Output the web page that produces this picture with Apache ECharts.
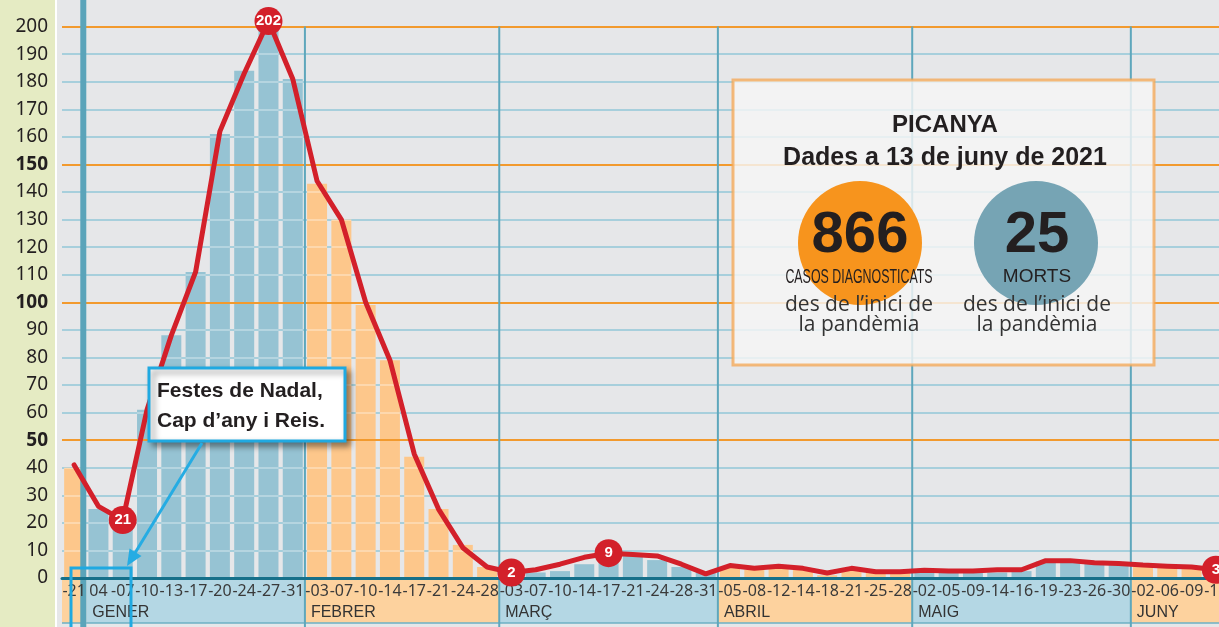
<!DOCTYPE html>
<html><head><meta charset="utf-8">
<script src="https://cdn.jsdelivr.net/npm/echarts@6/dist/echarts.min.js"></script>
<style>html,body{margin:0;padding:0;background:#e6e7e9}#c{width:1219px;height:627px}</style>
</head><body><div id="c"></div>
<script>
const categories = ['-21',
  '04','-07','-10','-13','-17','-20','-24','-27','-31',
  '-03','-07','-10','-14','-17','-21','-24','-28',
  '-03','-07','-10','-14','-17','-21','-24','-28','-31',
  '-05','-08','-12','-14','-18','-21','-25','-28',
  '-02','-05','-09','-14','-16','-19','-23','-26','-30',
  '-02','-06','-09','-13'];
const monthNames = ['', 'GENER', 'FEBRER', 'MARÇ', 'ABRIL', 'MAIG', 'JUNY'];
const monthSizes = [1, 9, 8, 9, 8, 9, 4];
const cases = [40,
  25, 21, 61, 88, 111, 161, 184, 202, 181,
  143, 130, 99, 79, 44, 25, 12, 4,
  1, 2, 2.5, 5, 7, 8, 6.5, 4, 2,
  4, 3, 4, 3, 1, 3, 2, 2,
  2, 2, 2, 2, 2.5, 6, 6, 5.5, 5,
  4.5, 4, 4, 3];
const trend = [41,
  26, 21, 61, 88, 111, 162, 183, 202, 181,
  144, 130, 100, 79, 45, 25, 11, 4,
  2, 3, 5, 7.5, 9, 8.5, 8, 5, 1.5,
  4.5, 3.5, 4.3, 3.5, 1.8, 3.5, 2.3, 2.3,
  2.8, 2.5, 2.5, 3, 3, 6.3, 6.3, 5.5, 5.3,
  4.7, 4.3, 4, 3];
const markerIdx = [2, 8, 18, 22, 47];
const boldTicks = [50, 100, 150];
const summaryCases = 866;
const summaryDeaths = 25;

const ORANGE_BAR = '#fdc78b', BLUE_BAR = '#96c3d3';
function monthOf(i) { let acc = 0; for (let m = 0; m < monthSizes.length; m++) { acc += monthSizes[m]; if (i < acc) return m; } return monthSizes.length - 1; }
const monthData = []; { let s = 0; monthSizes.forEach((n, m) => { monthData.push([s, s + n - 1, m]); s += n; }); }

const chart = echarts.init(document.getElementById('c'), null, { renderer: 'canvas' });
const whiteLine = 'rgba(255,255,255,0.3)';
chart.setOption({
  animation: false,
  backgroundColor: '#e6e7e9',
  grid: { left: 62, right: -9, top: -1, bottom: 49, containLabel: false, outerBoundsMode: 'none' },
  xAxis: {
    type: 'category', data: categories, z: 12,
    axisLine: { lineStyle: { color: '#16708a', width: 3 } },
    axisTick: { show: false },
    splitLine: { show: false },
    axisLabel: { interval: 0, hideOverlap: false, margin: 5, fontSize: 16, color: '#3a3a3a', fontFamily: '"Noto Sans", sans-serif' }
  },
  yAxis: [{
    type: 'value', min: 0, max: 210, interval: 10, z: 10,
    axisLine: { show: false }, axisTick: { show: false },
    splitLine: { lineStyle: { color: ['#f29a2e', whiteLine, whiteLine, whiteLine, whiteLine], width: 2 } },
    axisLabel: {
      margin: 14, fontSize: 19, color: '#231f20', fontFamily: '"Noto Sans", sans-serif',
      formatter: v => v > 200 ? '' : (boldTicks.includes(v) ? '{b|' + v + '}' : '{n|' + v + '}'),
      rich: {
        b: { fontWeight: 'bold', fontSize: 19, color: '#231f20', fontFamily: '"Noto Sans", sans-serif' },
        n: { fontSize: 19, color: '#231f20', fontFamily: '"Noto Sans", sans-serif' }
      }
    }
  }, {
    type: 'value', min: 0, max: 210, interval: 10, z: 0, position: 'left',
    axisLine: { show: false }, axisTick: { show: false }, axisLabel: { show: false },
    splitLine: { lineStyle: { color: '#82bbcd', width: 2 } }
  }],
  series: [{
    type: 'bar', data: cases, barWidth: 20, z: 2,
    itemStyle: { color: p => monthOf(p.dataIndex) % 2 ? BLUE_BAR : ORANGE_BAR }
  }, {
    type: 'custom', z: 11, clip: false, silent: true,
    data: monthData, encode: { x: [0, 1] },
    renderItem: function (params, api) {
      const st = api.value(0), en = api.value(1), m = api.value(2);
      const bw = api.size([1, 0])[0];
      const x0 = api.coord([st, 0])[0] - bw / 2, x1 = api.coord([en, 0])[0] + bw / 2;
      const yb = api.coord([st, 0])[1], yt = api.coord([st, 200])[1];
      const bandBottom = yb + 45;
      const children = [
        { type: 'rect', shape: { x: x0, y: yb + 1, width: x1 - x0, height: bandBottom - yb - 1 }, style: { fill: m % 2 ? '#b4d7e4' : '#fdd29e' } },
        { type: 'line', shape: { x1: x0, y1: bandBottom, x2: x1, y2: bandBottom }, style: { stroke: '#6cb0c4', lineWidth: 1.5 } },
        { type: 'text', style: { text: monthNames[m], x: x0 + 6, y: yb + 35, fill: '#333', fontSize: 16, fontFamily: '"Liberation Sans Narrow", "Liberation Sans", sans-serif', verticalAlign: 'middle', textVerticalAlign: 'middle' } }
      ];
      if (m === 1) children.push({ type: 'rect', shape: { x: x0 - 6, y: 0, width: 6, height: bandBottom + 10 }, style: { fill: '#5aa4ba' } });
      else if (m > 1) children.push({ type: 'line', shape: { x1: x0, y1: yt, x2: x0, y2: bandBottom + 10 }, style: { stroke: '#5ea7bc', lineWidth: 2 } });
      return { type: 'group', children };
    }
  }, {
    type: 'line', data: trend, symbol: 'none', z: 20, smooth: false,
    lineStyle: { color: '#d3202a', width: 5, cap: 'round', join: 'round' }
  }, {
    type: 'scatter', z: 25, symbolSize: 28,
    data: markerIdx.map(i => [i, trend[i]]),
    itemStyle: { color: '#d3202a', opacity: 1 },
    label: { show: true, position: 'inside', formatter: p => p.value[1], color: '#fff', fontWeight: 'bold', fontSize: 15, fontFamily: '"Liberation Sans Narrow", "Liberation Sans", sans-serif' }
  }],
  graphic: [
    { type: 'rect', z: 1, silent: true, shape: { x: 0, y: 0, width: 55, height: 627 }, style: { fill: '#e5ebc3' } },
    { type: 'rect', z: 1, silent: true, shape: { x: 55, y: 0, width: 2, height: 627 }, style: { fill: '#ffffff' } },
    // info box
    { type: 'rect', z: 30, silent: true, shape: { x: 733, y: 80, width: 421, height: 285 }, style: { fill: 'rgba(245,245,245,0.82)', stroke: 'rgba(244,170,90,0.8)', lineWidth: 3 } },
    { type: 'text', z: 31, silent: true, x: 945, y: 125, style: { text: 'PICANYA', x: 0, y: 0, fill: '#231f20', font: 'bold 24px "Liberation Sans", sans-serif', textAlign: 'center', verticalAlign: 'middle', textVerticalAlign: 'middle' } },
    { type: 'text', z: 31, silent: true, x: 945, y: 158, style: { text: 'Dades a 13 de juny de 2021', x: 0, y: 0, fill: '#231f20', font: 'bold 25px "Liberation Sans", sans-serif', textAlign: 'center', verticalAlign: 'middle', textVerticalAlign: 'middle' } },
    { type: 'circle', z: 31, silent: true, shape: { cx: 860, cy: 243, r: 62 }, style: { fill: '#f7941d' } },
    { type: 'circle', z: 31, silent: true, shape: { cx: 1036, cy: 243, r: 62 }, style: { fill: '#76a4b4' } },
    { type: 'text', z: 32, silent: true, x: 860, y: 236, style: { text: String(summaryCases), x: 0, y: 0, fill: '#231f20', font: 'bold 58px "Liberation Sans", sans-serif', textAlign: 'center', verticalAlign: 'middle', textVerticalAlign: 'middle' } },
    { type: 'text', z: 32, silent: true, x: 1037, y: 236, style: { text: String(summaryDeaths), x: 0, y: 0, fill: '#231f20', font: 'bold 58px "Liberation Sans", sans-serif', textAlign: 'center', verticalAlign: 'middle', textVerticalAlign: 'middle' } },
    { type: 'text', z: 32, silent: true, x: 859, y: 277, scaleX: 0.62, style: { text: 'CASOS DIAGNOSTICATS', x: 0, y: 0, fill: '#231f20', font: '20px "Liberation Sans", sans-serif', textAlign: 'center', verticalAlign: 'middle', textVerticalAlign: 'middle' } },
    { type: 'text', z: 32, silent: true, x: 1037, y: 277, style: { text: 'MORTS', x: 0, y: 0, fill: '#231f20', font: '19px "Liberation Sans", sans-serif', textAlign: 'center', verticalAlign: 'middle', textVerticalAlign: 'middle' } },
    { type: 'text', z: 32, silent: true, x: 859, y: 305, style: { text: 'des de l\u2019inici de', x: 0, y: 0, fill: '#333', font: '21px "Open Sans", sans-serif', textAlign: 'center', verticalAlign: 'middle', textVerticalAlign: 'middle' } },
    { type: 'text', z: 32, silent: true, x: 859, y: 325, style: { text: 'la pandèmia', x: 0, y: 0, fill: '#333', font: '21px "Open Sans", sans-serif', textAlign: 'center', verticalAlign: 'middle', textVerticalAlign: 'middle' } },
    { type: 'text', z: 32, silent: true, x: 1037, y: 305, style: { text: 'des de l\u2019inici de', x: 0, y: 0, fill: '#333', font: '21px "Open Sans", sans-serif', textAlign: 'center', verticalAlign: 'middle', textVerticalAlign: 'middle' } },
    { type: 'text', z: 32, silent: true, x: 1037, y: 325, style: { text: 'la pandèmia', x: 0, y: 0, fill: '#333', font: '21px "Open Sans", sans-serif', textAlign: 'center', verticalAlign: 'middle', textVerticalAlign: 'middle' } },
    // callout
    { type: 'rect', z: 30, silent: true, shape: { x: 149, y: 368, width: 196, height: 73 }, style: { fill: '#ffffff', stroke: '#1fa9e1', lineWidth: 3, shadowBlur: 6, shadowOffsetX: 4, shadowOffsetY: 4, shadowColor: 'rgba(0,0,0,0.4)' } },
    { type: 'text', z: 31, silent: true, x: 157, y: 391, style: { text: 'Festes de Nadal,', x: 0, y: 0, fill: '#231f20', font: 'bold 21px "Liberation Sans", sans-serif', textAlign: 'left', verticalAlign: 'middle', textVerticalAlign: 'middle' } },
    { type: 'text', z: 31, silent: true, x: 157, y: 421, style: { text: 'Cap d\u2019any i Reis.', x: 0, y: 0, fill: '#231f20', font: 'bold 21px "Liberation Sans", sans-serif', textAlign: 'left', verticalAlign: 'middle', textVerticalAlign: 'middle' } },
    { type: 'line', z: 30, silent: true, shape: { x1: 202, y1: 443, x2: 135, y2: 553 }, style: { stroke: '#25ace3', lineWidth: 3 } },
    { type: 'polygon', z: 30, silent: true, shape: { points: [[127, 566], [141.5, 556], [129.5, 548.5]] }, style: { fill: '#25ace3' } },
    { type: 'rect', z: 30, silent: true, shape: { x: 71, y: 568, width: 60, height: 70 }, style: { fill: 'none', stroke: '#1fa9e1', lineWidth: 3 } }
  ]
});
</script>
</body></html>
